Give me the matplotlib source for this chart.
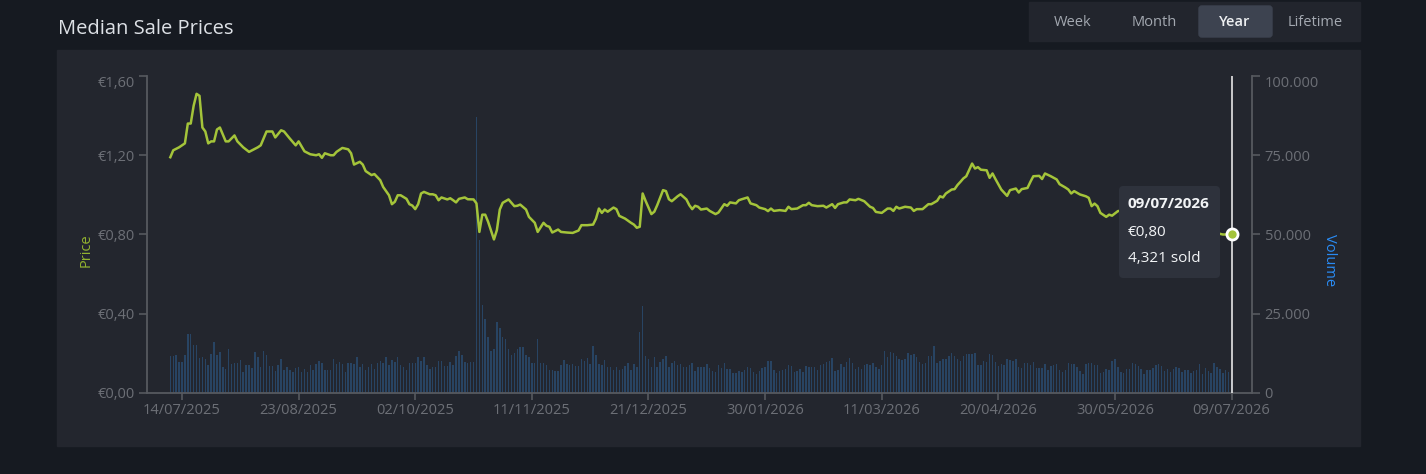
import numpy as np
import matplotlib.pyplot as plt
from matplotlib.patches import Rectangle, FancyBboxPatch

plt.rcParams['font.family'] = ['Open Sans', 'DejaVu Sans']

# --- data ---
start = np.datetime64('2025-07-10')

# (day after 10/07/2025, median price in EUR)
price_points = [
    (0, 1.19), (1, 1.225), (3, 1.24), (5, 1.26), (6, 1.36), (7, 1.36), (8, 1.45), (9, 1.51), (10, 1.50), (11, 1.34),
    (12, 1.32), (13, 1.26), (14, 1.27), (15, 1.27), (16, 1.33), (17, 1.34), (19, 1.27), (20, 1.27), (22, 1.30), (23, 1.27),
    (25, 1.24), (27, 1.217), (30, 1.24), (31, 1.25), (33, 1.32), (35, 1.32), (36, 1.29), (38, 1.326), (39, 1.32), (41, 1.284),
    (43, 1.25), (44, 1.27), (45, 1.245), (46, 1.22), (48, 1.205), (50, 1.20), (51, 1.205), (52, 1.187), (53, 1.21), (55, 1.20),
    (56, 1.20), (57, 1.217), (59, 1.237), (61, 1.23), (62, 1.21), (63, 1.153), (65, 1.167), (66, 1.153), (67, 1.12), (69, 1.10),
    (70, 1.105), (72, 1.074), (73, 1.04), (75, 0.998), (76, 0.953), (77, 0.965), (78, 0.998), (79, 0.998), (81, 0.98), (82, 0.953),
    (83, 0.946), (84, 0.928), (85, 0.953), (86, 1.007), (87, 1.015), (89, 1.003), (90, 1.003), (91, 0.998), (92, 0.973), (93, 0.987),
    (95, 0.977), (96, 0.983), (97, 0.973), (98, 0.962), (99, 0.98), (101, 0.987), (102, 0.978), (104, 0.977), (105, 0.957), (106, 0.813),
    (107, 0.90), (108, 0.90), (109, 0.864), (111, 0.775), (112, 0.822), (113, 0.926), (114, 0.96), (116, 0.977), (118, 0.943), (119, 0.945),
    (120, 0.951), (122, 0.926), (123, 0.889), (125, 0.859), (126, 0.813), (128, 0.859), (129, 0.844), (130, 0.839), (131, 0.81), (133, 0.825),
    (134, 0.813), (136, 0.81), (138, 0.808), (140, 0.82), (141, 0.847), (143, 0.847), (145, 0.85), (146, 0.88), (147, 0.931), (148, 0.909),
    (149, 0.926), (150, 0.915), (152, 0.936), (153, 0.928), (154, 0.894), (156, 0.88), (158, 0.859), (159, 0.85), (160, 0.834), (161, 0.839),
    (162, 1.007), (163, 0.97), (165, 0.903), (166, 0.915), (167, 0.948), (169, 1.024), (170, 1.019), (171, 0.978), (172, 0.968), (174, 0.993),
    (175, 1.003), (177, 0.977), (178, 0.948), (179, 0.928), (180, 0.945), (181, 0.94), (182, 0.926), (184, 0.931), (185, 0.919), (187, 0.903),
    (188, 0.911), (190, 0.953), (191, 0.945), (192, 0.962), (194, 0.957), (195, 0.973), (196, 0.978), (198, 0.987), (199, 0.957), (201, 0.948),
    (202, 0.936), (204, 0.928), (205, 0.918), (206, 0.931), (207, 0.919), (209, 0.923), (211, 0.919), (212, 0.94), (213, 0.928), (215, 0.931),
    (217, 0.948), (218, 0.948), (219, 0.96), (220, 0.948), (222, 0.943), (224, 0.945), (225, 0.936), (227, 0.953), (228, 0.934), (229, 0.953),
    (231, 0.962), (232, 0.962), (233, 0.977), (235, 0.973), (236, 0.98), (238, 0.968), (240, 0.94), (241, 0.934), (242, 0.914), (244, 0.909),
    (246, 0.931), (247, 0.931), (248, 0.919), (249, 0.94), (250, 0.931), (252, 0.94), (254, 0.936), (255, 0.919), (256, 0.928), (258, 0.928),
    (260, 0.953), (261, 0.953), (263, 0.97), (264, 0.993), (265, 0.987), (266, 1.007), (268, 1.027), (269, 1.029), (270, 1.05), (271, 1.066),
    (272, 1.083), (273, 1.094), (275, 1.158), (276, 1.133), (277, 1.14), (278, 1.127), (280, 1.124), (281, 1.086), (282, 1.108), (283, 1.08),
    (285, 1.027), (287, 0.995), (288, 1.024), (290, 1.032), (291, 1.012), (292, 1.029), (294, 1.035), (295, 1.066), (296, 1.094), (298, 1.096),
    (299, 1.08), (300, 1.108), (302, 1.094), (304, 1.078), (305, 1.054), (307, 1.037), (308, 1.027), (309, 1.007), (310, 1.019), (312, 1.002),
    (314, 0.993), (315, 0.985), (316, 0.943), (317, 0.956), (318, 0.943), (319, 0.909), (321, 0.889), (322, 0.90), (323, 0.895), (325, 0.918),
    (328, 0.925), (333, 0.905), (338, 0.89), (343, 0.87), (348, 0.85), (353, 0.83), (358, 0.81), (361, 0.80), (364, 0.80),
]

# daily volume in thousands, 10/07/2025 .. 09/07/2026
volume_k = [
    11.8, 11.8, 11.9, 9.9, 9.8, 12.1, 18.7, 18.5, 15.1, 15.0,
    11.0, 11.5, 10.7, 8.7, 12.3, 16.2, 12.1, 12.9, 8.3, 7.7,
    14.0, 9.2, 9.6, 9.4, 10.5, 6.7, 8.7, 8.9, 8.0, 13.0,
    11.4, 8.3, 13.4, 11.9, 8.6, 8.6, 7.0, 8.9, 10.8, 7.4,
    8.3, 7.4, 6.7, 8.0, 8.2, 6.7, 7.5, 6.7, 8.9, 7.2,
    9.0, 10.2, 9.6, 7.4, 7.4, 7.4, 10.8, 9.0, 9.9, 9.3,
    6.7, 9.6, 9.6, 9.3, 11.2, 8.3, 9.3, 7.4, 8.3, 9.3,
    7.7, 9.6, 10.2, 9.6, 11.5, 8.7, 10.5, 9.9, 11.5, 8.7,
    8.3, 7.4, 9.6, 9.4, 9.6, 11.2, 10.2, 11.5, 8.9, 7.7,
    8.3,
    8.3, 10.2, 10.1, 8.6, 8.6, 9.8, 8.9, 11.8, 13.2, 12.1,
    9.8, 9.4, 9.8, 9.9, 87.1, 48.3, 27.9, 23.4, 17.6, 13.2,
    14.0, 22.4, 20.4, 17.6, 17.1, 14.0, 12.0, 12.5, 14.0, 14.6,
    14.6, 12.1, 11.2, 9.6, 9.4, 17.0, 9.6, 9.6, 8.7, 7.4,
    7.4, 6.9, 7.0, 8.9, 10.5, 9.2, 8.9, 9.3, 8.4, 8.4,
    10.7, 10.1, 10.9, 9.2, 14.9, 12.1, 9.3, 8.7, 10.4, 8.3,
    8.3, 7.4, 8.2, 7.4, 7.7, 8.4, 9.6, 7.4, 9.0, 8.3,
    19.3, 27.6, 11.7, 10.7, 8.3, 11.5, 8.1, 9.7, 10.7, 11.7,
    8.3, 9.5, 10.2, 8.9, 9.3, 8.3, 8.3, 8.9, 9.4, 6.8,
    8.3,
    8.1, 8.3, 9.3, 8.0, 7.0, 6.7, 8.9, 8.0, 9.6, 7.7,
    7.7, 6.4, 6.4, 7.0, 6.7, 7.4, 8.3, 8.0, 6.7, 6.1,
    6.8, 8.0, 8.2, 10.2, 10.1, 7.4, 6.4, 6.8, 7.2, 7.7,
    8.9, 8.4, 6.7, 6.8, 7.7, 6.7, 8.4, 8.1, 8.1, 8.3,
    7.4, 8.9, 9.3, 9.7, 10.0, 11.0, 7.0, 7.4, 9.3, 8.3,
    9.9, 11.0, 9.5, 7.7, 8.3, 7.7, 8.9, 9.0, 8.7, 9.6,
    8.3, 7.7, 8.9, 13.4, 11.5, 13.0, 12.6, 11.8, 10.7, 10.5,
    10.8, 12.6, 12.1, 12.4, 11.2, 9.9, 9.2, 9.6, 11.8, 11.7,
    14.9, 9.6, 10.2, 10.8, 10.8, 11.8, 12.6, 11.8, 10.8, 10.1,
    11.8,
    12.3, 12.3, 12.4, 12.7, 8.8, 8.9, 10.1, 9.9, 12.4, 12.0,
    9.9, 8.6, 9.3, 8.7, 10.7, 10.4, 10.2, 10.7, 8.3, 7.8,
    9.4, 9.4, 8.9, 9.8, 7.8, 7.8, 8.0, 9.3, 7.2, 8.6,
    8.7, 9.3, 7.2, 6.6, 7.2, 9.6, 9.3, 9.3, 8.3, 7.0,
    6.1, 9.0, 9.6, 9.6, 8.7, 8.9, 6.4, 6.7, 7.7, 7.4,
    10.2, 10.8, 8.3, 6.7, 6.4, 7.7, 7.5, 9.4, 9.3, 8.4,
    7.7, 6.1, 7.4, 7.4, 8.0, 8.7, 9.3, 8.6, 7.0, 7.7,
    6.7, 7.5, 8.1, 8.0, 6.7, 7.2, 7.4, 6.4, 6.8, 7.4,
    9.3, 6.1, 8.0, 7.0, 6.4, 9.4, 8.3, 7.7, 6.4, 7.4,
    6.7,
    4.321,
]

price_ticks = [0.0, 0.4, 0.8, 1.2, 1.6]
price_tick_labels = ['€0,00', '€0,40', '€0,80', '€1,20', '€1,60']
volume_ticks = [0, 25000, 50000, 75000, 100000]
volume_tick_labels = ['0', '25.000', '50.000', '75.000', '100.000']
date_ticks = ['2025-07-14', '2025-08-23', '2025-10-02', '2025-11-11', '2025-12-21',
              '2026-01-30', '2026-03-11', '2026-04-20', '2026-05-30', '2026-07-09']
date_tick_labels = ['14/07/2025', '23/08/2025', '02/10/2025', '11/11/2025', '21/12/2025',
                    '30/01/2026', '11/03/2026', '20/04/2026', '30/05/2026', '09/07/2026']
buttons = ['Week', 'Month', 'Year', 'Lifetime']
selected = 'Year'
tooltip_date = '09/07/2026'
tooltip_price = '€0,80'
tooltip_sold = '4,321 sold'
hover_price = 0.80

# --- colours ---
bg = '#161a21'
panel = '#23262e'
green = '#a4c43a'
bar_col = '#284463'
spine_col = '#56595f'
tick_txt = '#6c6f76'

W, H = 1426, 474


def fx(px):
    return px / W


def fy(py):
    return 1 - py / H


fig = plt.figure(figsize=(W / 100, H / 100), dpi=100, facecolor=bg)

# panel and button bar
fig.add_artist(Rectangle((fx(57), fy(446)), (1360 - 57) / W, (446 - 50) / H,
                         transform=fig.transFigure, color=panel, zorder=-1))
fig.add_artist(Rectangle((fx(1029), fy(41)), (1360 - 1029) / W, (41 - 2) / H,
                         transform=fig.transFigure, color='#22252d', zorder=-1))
fig.add_artist(FancyBboxPatch((fx(1199), fy(37)), (1272 - 1199) / W, (37 - 6) / H,
                              boxstyle='round,pad=0,rounding_size=0.002', mutation_aspect=W / H,
                              transform=fig.transFigure, color='#3d4350', zorder=-0.5))
btn_x = [1073, 1154, 1235, 1315]
for name, cx in zip(buttons, btn_x):
    sel = name == selected
    fig.text(fx(cx), fy(22), name, ha='center', va='center', fontsize=10.5,
             color='#eef0f2' if sel else '#a3a8b0', fontweight='semibold' if sel else 'normal')

fig.text(fx(58), fy(29), 'Median Sale Prices', fontsize=14.5, color='#dde1e6', va='center')

# axes
ax = fig.add_axes([fx(147), fy(393), (1252 - 147) / W, (393 - 76) / H])
ax2 = ax.twinx()
ax.set_zorder(2)
ax2.set_zorder(1)
ax.patch.set_visible(False)
ax2.patch.set_visible(False)

price_dates = start + np.array([p[0] for p in price_points]).astype('timedelta64[D]')
price_vals = [p[1] for p in price_points]
vol_dates = start + np.arange(len(volume_k)).astype('timedelta64[D]')
vol = np.array(volume_k) * 1000

ax2.bar(vol_dates, vol, width=0.5, color=bar_col, linewidth=0)
ax.plot(price_dates, price_vals, color=green, lw=1.8, zorder=4)

end_date = vol_dates[-1]
ax.axvline(end_date, color='#e6e6e6', lw=1.2, zorder=5)
ax.plot([end_date], [hover_price], 'o', ms=8, mfc=green, mec='white', mew=2, zorder=6, clip_on=False)

ax.set_xlim(np.datetime64('2025-07-02'), np.datetime64('2026-07-16'))
ax.set_ylim(0, 1.6)
ax2.set_ylim(0, 100000)

ax.set_yticks(price_ticks)
ax.set_yticklabels(price_tick_labels)
ax2.set_yticks(volume_ticks)
ax2.set_yticklabels(volume_tick_labels)
ax.set_xticks([np.datetime64(d) for d in date_ticks])
ax.set_xticklabels(date_tick_labels)

for a in (ax, ax2):
    for s in a.spines.values():
        s.set_visible(False)
        s.set_color(spine_col)
        s.set_linewidth(1.3)
ax.spines['left'].set_visible(True)
ax.spines['bottom'].set_visible(True)
ax2.spines['right'].set_visible(True)

ax.tick_params(axis='y', length=6, width=1.2, color=spine_col, labelcolor=tick_txt, labelsize=10.5, pad=3)
ax.tick_params(axis='x', length=5, width=1.2, color=spine_col, labelcolor=tick_txt, labelsize=10.5, pad=2)
ax2.tick_params(axis='y', length=6, width=1.2, color=spine_col, labelcolor=tick_txt, labelsize=10.5, pad=3)
ax.get_yticklabels()[-1].set_va('top')
ax2.get_yticklabels()[-1].set_va('top')

fig.text(fx(86), fy(250), 'Price', rotation=90, color='#93b430', fontsize=10.5, ha='center', va='center')
fig.text(fx(1330), fy(260), 'Volume', rotation=270, color='#2a8cf5', fontsize=10.5, ha='center', va='center')

# tooltip
fig.add_artist(FancyBboxPatch((fx(1119), fy(278)), (1220 - 1119) / W, (278 - 186) / H,
                              boxstyle='round,pad=0,rounding_size=0.003', mutation_aspect=W / H,
                              transform=fig.transFigure, facecolor='#2e323c', edgecolor='none', zorder=10))
fig.text(fx(1128), fy(204), tooltip_date, fontsize=11, fontweight='bold', color='#f2f4f6', va='center', zorder=11)
fig.text(fx(1128), fy(232), tooltip_price, fontsize=11, color='#f2f4f6', va='center', zorder=11)
fig.text(fx(1128), fy(259), tooltip_sold, fontsize=11, color='#f2f4f6', va='center', zorder=11)

fig.savefig('out.png', dpi=100, facecolor=bg)
